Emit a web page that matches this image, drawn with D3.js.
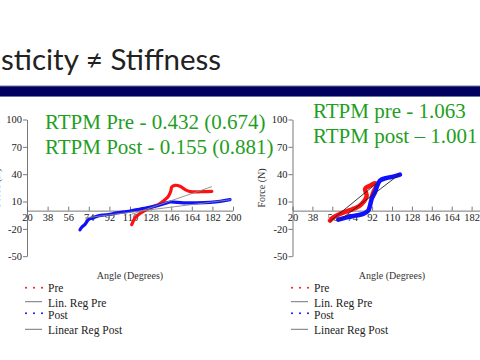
<!DOCTYPE html>
<html><head><meta charset="utf-8">
<script src="https://cdn.jsdelivr.net/npm/d3@7"></script>
<style>body{margin:0;background:#fff}svg{display:block}</style>
</head><body>
<svg id="c" width="480" height="360"></svg>
<script>
// ---- data ----
const titleText = "sticity \u2260 Stiffness";
const xTicks = [20, 38, 56, 74, 92, 110, 128, 146, 164, 182, 200];
const yTicks = [100, 70, 40, 10, -20, -50];
const legendLabels = ["Pre", "Lin. Reg Pre", "Post", "Linear Reg Post"];
const leftNotes = ["RTPM Pre - 0.432 (0.674)", "RTPM Post - 0.155 (0.881)"];
const rightNotes = ["RTPM pre - 1.063", "RTPM post \u2013 1.001"];

// left chart: [angle, force]
const leftPre = [[111.5,-15.4],[114.4,-8.0],[117.3,-4.4],[121.7,-0.8],[127.5,3.0],[134.8,6.6],[140.6,12.1],[143.5,15.7],[145.6,21.2],[146.5,26.0],[149.4,27.8],[153.7,26.7],[158.1,23.1],[162.5,20.9],[168.3,20.5],[174.1,20.9],[181.5,21.2]];
const leftPost = [[66.3,-21],[68,-18],[70.7,-15],[73.6,-10],[77,-8],[80.9,-6.3],[86,-5],[92.6,-4],[98.4,-2.5],[107,-1],[112.9,0.3],[124.6,3.0],[134.8,5.8],[142.1,8.5],[145,9.5],[156.6,8.5],[168.3,8.5],[180,9.1],[188.7,10.2],[197.4,12.1]];
const leftRegPre = [[111.5,-4],[181.5,26.3]];
const leftRegPost = [[70.7,-8],[198,12]];

// right chart
const rightPre = [[53.9,-11],[56.9,-7.4],[62.9,-3.6],[69,-0.8],[75,1.9],[79.5,4.4],[82.6,7.4],[85.6,11.7],[87.1,16.5],[85.6,23.8],[90.1,27.4],[94.6,30],[96.1,28.5],[93.1,20.1],[91.6,14.6]];
const rightPost = [[61.4,-9.9],[69,-7.4],[76.5,-5.5],[84,-3.6],[88.5,0],[90.1,5.5],[91.6,12.8],[94.6,20.1],[96.1,25.6],[99.1,32.9],[105.2,35.9],[111.1,37.3],[117.2,39.5]];
const rightRegPre = [[53.9,-11.8],[96.1,30]];
const rightRegPost = [[61.4,-11.8],[117.2,40.3]];

// ---- drawing ----
const svg = d3.select("#c");
const GREEN = "#1f9e1f", RED = "#ff1010", BLUE = "#1010ff";

// title + bar
svg.append("text").attr("x", 1).attr("y", 69.5).text(titleText)
  .attr("font-family", "Lato, 'Open Sans', sans-serif").attr("font-size", 29.5).attr("fill", "#222");
svg.append("rect").attr("x", 0).attr("y", 86).attr("width", 480).attr("height", 10.5).attr("fill", "#00005e");
svg.append("line").attr("x1",0).attr("x2",480).attr("y1",86).attr("y2",86).attr("stroke","#6a78a0").attr("stroke-width",1);
svg.append("line").attr("x1",0).attr("x2",480).attr("y1",96.5).attr("y2",96.5).attr("stroke","#6a78a0").attr("stroke-width",1);

const y = d3.scaleLinear().domain([-50, 100]).range([256.2, 119.5]);
const serif = "'Liberation Serif', 'Times New Roman', serif";

function chart(x, pre, post, regPre, regPost, regColor, wide, notes, noteX, noteY, legX, yLabelX) {
  const g = svg.append("g");
  const xa = g.append("g").attr("transform", `translate(0,${y(0)})`)
    .call(d3.axisBottom(x).tickValues(xTicks).tickFormat(d => String(d)).tickSizeInner(-4).tickSizeOuter(0).tickPadding(3));
  const ya = g.append("g").attr("transform", `translate(${x(20)},0)`)
    .call(d3.axisLeft(y).tickValues(yTicks).tickFormat(d => String(d)).tickSizeInner(4).tickSizeOuter(0).tickPadding(1));
  [xa, ya].forEach(a => {
    a.selectAll("path,line").attr("stroke", "#555").attr("stroke-width", 0.8);
    a.selectAll("text").attr("font-family", serif).attr("font-size", 10.5).attr("fill", "#222");
  });
  g.append("text").attr("transform", `translate(${yLabelX},188) rotate(-90)`).attr("text-anchor", "middle")
    .attr("font-family", serif).attr("font-size", 10).attr("fill", "#333").text("Force (N)");
  g.append("text").attr("x", (x(20) + x(200)) / 2 - (wide ? 0 : 0)).attr("y", 279).attr("text-anchor", "middle")
    .attr("font-family", serif).attr("font-size", 10).attr("fill", "#333").text("Angle (Degrees)");

  const line = d3.line().x(d => x(d[0])).y(d => y(d[1])).curve(d3.curveCatmullRom);
  const sw = wide ? 4.5 : 3.2;
  g.append("path").datum(pre).attr("d", line).attr("fill", "none").attr("stroke", RED)
    .attr("stroke-width", sw).attr("stroke-linejoin", "round").attr("stroke-linecap", "round");
  g.append("path").datum(post).attr("d", line).attr("fill", "none").attr("stroke", BLUE)
    .attr("stroke-width", sw).attr("stroke-linejoin", "round").attr("stroke-linecap", "round");
  const straight = d3.line().x(d => x(d[0])).y(d => y(d[1]));
  [regPre, regPost].forEach(r => g.append("path").datum(r).attr("d", straight)
    .attr("fill", "none").attr("stroke", regColor).attr("stroke-width", 0.9));

  notes.forEach((t, i) => g.append("text").attr("x", noteX).attr("y", noteY + i * 25)
    .attr("font-family", serif).attr("font-size", 21).attr("fill", GREEN).text(t));

  const rowY = [287.7, 301.7, 313.3, 329.3];
  const txtY = [292, 306.5, 319, 334];
  legendLabels.forEach((lab, i) => {
    if (i % 2 === 0) {
      [0, 8, 16].forEach(dx => g.append("circle").attr("cx", legX + 1 + dx).attr("cy", rowY[i]).attr("r", 1)
        .attr("fill", i === 0 ? RED : BLUE));
    } else {
      g.append("line").attr("x1", legX).attr("x2", legX + 17).attr("y1", rowY[i]).attr("y2", rowY[i])
        .attr("stroke", "#666").attr("stroke-width", 0.9);
    }
    g.append("text").attr("x", legX + 23).attr("y", txtY[i]).attr("font-family", serif)
      .attr("font-size", 11.5).attr("fill", "#222").text(lab);
  });
}

const xL = d3.scaleLinear().domain([20, 200]).range([27, 233]);
const xR = d3.scaleLinear().domain([20, 200]).range([292.5, 491.5]);
chart(xL, leftPre, leftPost, leftRegPre, leftRegPost, "#888", false, leftNotes, 45, 128.5, 25, -0.5);
chart(xR, rightPre, rightPost, rightRegPre, rightRegPost, "#222", true, rightNotes, 313, 118, 291, 264.5);
</script>
</body></html>
